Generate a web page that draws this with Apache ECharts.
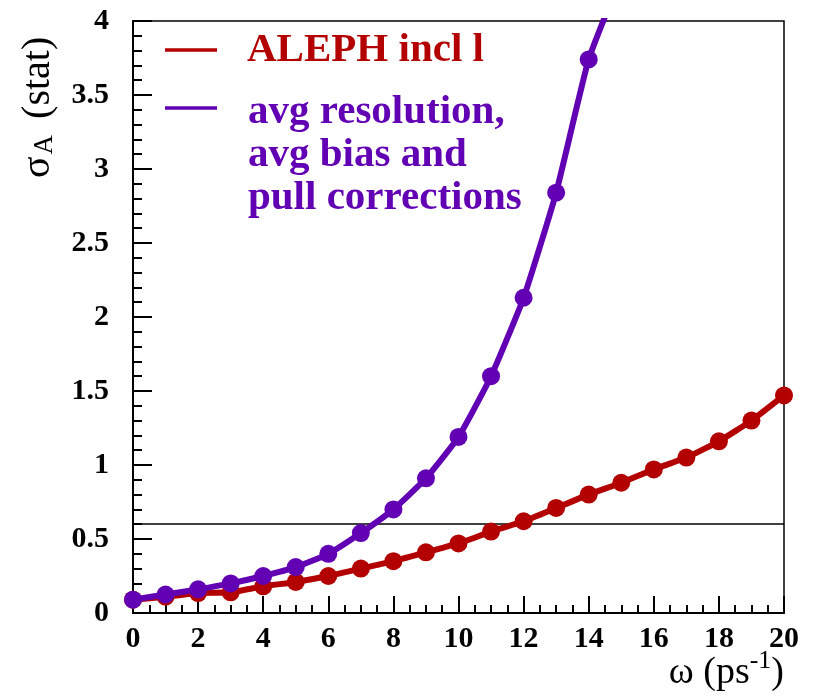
<!DOCTYPE html>
<html>
<head>
<meta charset="utf-8">
<script src="https://cdn.jsdelivr.net/npm/echarts@6/dist/echarts.min.js"></script>
<style>
  html, body { margin: 0; padding: 0; background: #fff; }
  #chart { width: 816px; height: 700px; }
</style>
</head>
<body>
<div id="chart"></div>
<script>
// Oscillation frequency omega (ps^-1)
var omega = [0, 1, 2, 3, 4, 5, 6, 7, 8, 9, 10, 11, 12, 13, 14, 15, 16, 17, 18, 19, 20];
// Statistical uncertainty on the amplitude, ALEPH inclusive lepton
var alephInclL = [0.09, 0.11, 0.135, 0.14, 0.18, 0.21, 0.25, 0.30, 0.35, 0.41, 0.47, 0.55, 0.62, 0.71, 0.80, 0.88, 0.97, 1.05, 1.16, 1.30, 1.47];
// Same, with averaged resolution, bias and pull corrections
var avgCorrected = [0.09, 0.125, 0.16, 0.20, 0.25, 0.31, 0.40, 0.54, 0.70, 0.91, 1.19, 1.60, 2.13, 2.84, 3.74, 4.30];
// Reference level
var refLevel = 0.6;
var xTicks = { min: 0, max: 20, step: 2 };
var yTicks = { min: 0, max: 4, step: 0.5 };

var RED = '#b30000';
var PURPLE = '#6200b3';
var SERIF = '"Liberation Serif", "DejaVu Serif", serif';

function pairs(xs, ys) {
  return ys.map(function (y, i) { return [xs[i], y]; });
}

var chart = echarts.init(document.getElementById('chart'), null, { renderer: 'canvas' });

chart.setOption({
  animation: false,
  backgroundColor: '#fff',
  grid: {
    left: 133, top: 21, right: 32, bottom: 87,
    show: true, borderColor: '#000', borderWidth: 1.5, backgroundColor: 'transparent'
  },
  xAxis: {
    type: 'value',
    min: xTicks.min, max: xTicks.max, interval: xTicks.step,
    axisLine: { onZero: false, lineStyle: { color: '#000', width: 2 } },
    axisTick: { inside: true, length: 17, lineStyle: { color: '#000', width: 2 } },
    minorTick: { show: true, splitNumber: 4, length: 8, lineStyle: { color: '#000', width: 2 } },
    splitLine: { show: false },
    axisLabel: { margin: 11, color: '#000', fontFamily: SERIF, fontWeight: 'bold', fontSize: 30 }
  },
  yAxis: {
    type: 'value',
    min: yTicks.min, max: yTicks.max, interval: yTicks.step,
    axisLine: { onZero: false, lineStyle: { color: '#000', width: 2 } },
    axisTick: { inside: true, length: 19, lineStyle: { color: '#000', width: 2 } },
    minorTick: { show: true, splitNumber: 5, length: 9, lineStyle: { color: '#000', width: 2 } },
    splitLine: { show: false },
    axisLabel: {
      margin: 24, color: '#000', fontFamily: SERIF, fontWeight: 'bold', fontSize: 30,
      formatter: function (v) { return String(v); }
    }
  },
  series: [
    {
      name: 'ALEPH incl l',
      type: 'line',
      data: pairs(omega, alephInclL),
      smooth: 0.15,
      clip: true,
      symbol: 'circle',
      symbolSize: 18,
      itemStyle: { color: RED },
      lineStyle: { color: RED, width: 6 },
      z: 3,
      markLine: {
        silent: true,
        symbol: ['none', 'none'],
        label: { show: false },
        lineStyle: { color: '#000', width: 1.5, type: 'solid' },
        data: [{ yAxis: refLevel }],
        z: 1
      }
    },
    {
      name: 'avg resolution, avg bias and pull corrections',
      type: 'line',
      data: pairs(omega, avgCorrected),
      smooth: 0.15,
      clip: true,
      symbol: 'circle',
      symbolSize: 18,
      itemStyle: { color: PURPLE },
      lineStyle: { color: PURPLE, width: 6 },
      z: 4
    }
  ],
  graphic: [
    // legend entries
    { type: 'line', shape: { x1: 165, y1: 50, x2: 217, y2: 50 }, style: { stroke: RED, lineWidth: 3.5 } },
    { type: 'text', left: 247, top: 30,
      style: { text: 'ALEPH incl l', fill: RED, font: 'bold 41px ' + SERIF } },
    { type: 'line', shape: { x1: 165, y1: 108, x2: 217, y2: 108 }, style: { stroke: PURPLE, lineWidth: 3.5 } },
    { type: 'text', left: 248, top: 91,
      style: { text: 'avg resolution,\navg bias and\npull corrections', fill: PURPLE,
               font: 'bold 41px ' + SERIF, lineHeight: 43 } },
    // x-axis title
    { type: 'text', right: 32, top: 648,
      style: {
        text: '{b|ω (ps}{s|-1}{b|)}',
        rich: {
          b: { fontFamily: SERIF, fontSize: 38, fill: '#000', verticalAlign: 'bottom' },
          s: { fontFamily: SERIF, fontSize: 26, fill: '#000', padding: [0, 0, 18, 0], verticalAlign: 'bottom' }
        }
      }
    },
    // y-axis title
    { type: 'text', x: 18, y: 178, rotation: Math.PI / 2,
      style: {
        text: '{b|σ}{s|A}{b| (stat)}',
        rich: {
          b: { fontFamily: SERIF, fontSize: 40, fill: '#000', verticalAlign: 'bottom' },
          s: { fontFamily: SERIF, fontSize: 27, fill: '#000', padding: [0, 6, 0, 2], verticalAlign: 'bottom' }
        }
      }
    }
  ]
});
</script>
</body>
</html>
